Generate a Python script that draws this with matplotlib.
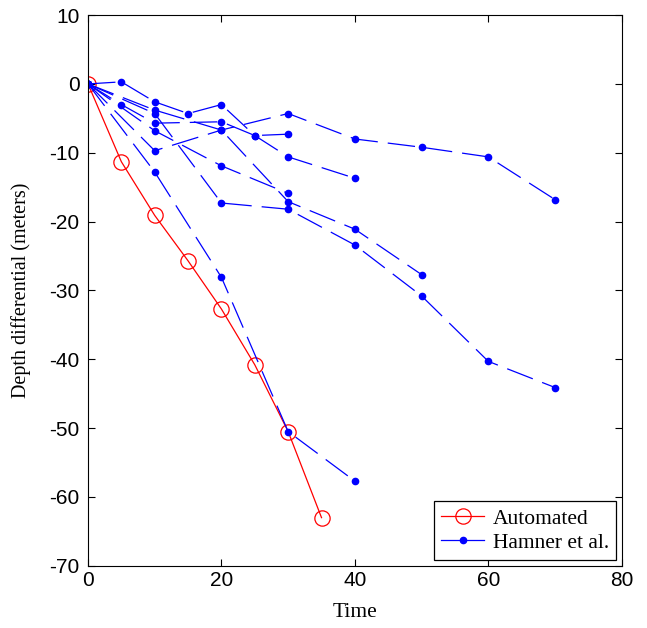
import matplotlib
matplotlib.use('Agg')
import matplotlib.pyplot as plt

plt.rcParams['axes.unicode_minus'] = False

# automated depth differential
auto_t = [0, 5, 10, 15, 20, 25, 30, 35]
auto_d = [0, -11.3, -19.1, -25.7, -32.7, -40.8, -50.5, -63.0]

# Hamner et al. runs
ham_t1 = [0, 10, 20, 30, 40, 50, 60, 70]
ham_d1 = [0, -9.7, -6.7, -4.3, -8.0, -9.2, -10.6, -16.8]
ham_t2 = [0, 10, 20, 30, 40]
ham_d2 = [0, -12.8, -28.1, -50.5, -57.7]
ham_t3 = [0, 10, 20, 30, 40, 50, 60, 70]
ham_d3 = [0, -4.3, -17.3, -18.2, -23.4, -30.8, -40.3, -44.1]
ham_t4 = [0, 10, 20, 30, 40, 50]
ham_d4 = [0, -3.8, -6.7, -17.1, -21.1, -27.7]
ham_t5 = [0, 10, 20, 30]
ham_d5 = [0, -6.8, -11.9, -15.9]
ham_t6 = [0, 5, 10, 20, 25, 30]
ham_d6 = [0, -3.0, -5.7, -5.5, -7.5, -7.3]
ham_t7 = [0, 5, 10, 15, 20, 25, 30, 40]
ham_d7 = [0, 0.3, -2.6, -4.3, -3.0, -7.5, -10.6, -13.7]

hamner = [(ham_t1, ham_d1), (ham_t2, ham_d2), (ham_t3, ham_d3), (ham_t4, ham_d4),
          (ham_t5, ham_d5), (ham_t6, ham_d6), (ham_t7, ham_d7)]

fig = plt.figure(figsize=(6.47, 6.28), dpi=100)
ax = fig.add_axes([0.136, 0.099, 0.825, 0.877])

ax.plot(auto_t, auto_d, color='red', lw=0.9, marker='o', markersize=11,
        markerfacecolor='none', markeredgecolor='red', markeredgewidth=0.9, label='Automated')

for i, (t, d) in enumerate(hamner):
    ax.plot(t, d, color='blue', lw=0.9, dashes=(22, 8), marker='o', markersize=4.5,
            markerfacecolor='blue', markeredgecolor='blue',
            label='Hamner et al.' if i == 0 else None)

ax.set_xlim(0, 80)
ax.set_ylim(-70, 10)
ax.set_xticks([0, 20, 40, 60, 80])
ax.set_yticks(range(-70, 11, 10))
ax.tick_params(direction='in', top=True, right=True, length=5, labelsize=15, width=0.8)
ax.tick_params(axis='y', pad=6)
ax.tick_params(axis='x', pad=4)
for lab in ax.get_xticklabels() + ax.get_yticklabels():
    lab.set_family('Liberation Sans')
for s in ax.spines.values():
    s.set_linewidth(0.8)

ax.set_xlabel('Time', family='Liberation Serif', fontsize=15.5, labelpad=9)
ax.set_ylabel('Depth differential (meters)', family='Liberation Serif', fontsize=14.5, labelpad=13)

leg = ax.legend(loc='lower right', prop={'family': 'Liberation Serif', 'size': 15.5},
                fancybox=False, edgecolor='black', framealpha=1, handlelength=2.0,
                borderaxespad=0.25, borderpad=0.35, labelspacing=0.2, handletextpad=0.4)
leg.get_frame().set_linewidth(0.9)
leg.get_lines()[1].set_linestyle('-')

plt.savefig('out.png', dpi=100)
